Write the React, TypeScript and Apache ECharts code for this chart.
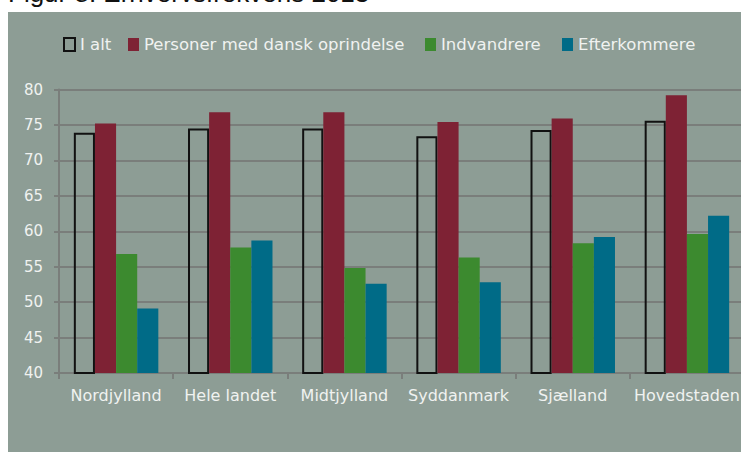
import React, { useEffect, useRef } from "react";
import * as echarts from "echarts";

const categories = ["Nordjylland", "Hele landet", "Midtjylland", "Syddanmark", "Sjælland", "Hovedstaden"];
const seriesNames = ["I alt", "Personer med dansk oprindelse", "Indvandrere", "Efterkommere"];
const iAlt = [73.9, 74.5, 74.5, 73.4, 74.3, 75.6];
const personer = [75.2, 76.8, 76.8, 75.4, 75.9, 79.2];
const indvandrere = [56.8, 57.7, 54.8, 56.3, 58.3, 59.6];
const efterkommere = [49.1, 58.7, 52.6, 52.8, 59.2, 62.2];
const yMin = 40;
const yMax = 80;
const yStep = 5;
const titleText = "Figur 8. Erhvervsfrekvens 2013";

const BG = "#8d9d95";
const GRIDC = "#7a7e7b";
const TXT = "#f0f2f0";
const FONT = "'DejaVu Sans', Verdana, sans-serif";

export default function App() {
  const ref = useRef<HTMLDivElement>(null);
  useEffect(() => {
    if (!ref.current) return;
    const chart = echarts.init(ref.current, null, { renderer: "svg" });
    const legendLefts = [63, 128, 425, 562];
    const dataSets = [iAlt, personer, indvandrere, efterkommere];
    const styles = [
      { color: "transparent", borderColor: "#111111", borderWidth: 2 },
      { color: "#7e2234" },
      { color: "#3c8a2f" },
      { color: "#006b87" },
    ];
    chart.setOption({
      animation: false,
      backgroundColor: "#ffffff",
      graphic: [
        {
          type: "rect",
          z: -100,
          silent: true,
          shape: { x: 8, y: 12, width: 741, height: 452 },
          style: { fill: BG },
        },
        {
          type: "text",
          x: 8,
          y: 6,
          silent: true,
          style: {
            text: titleText,
            font: "26px 'Liberation Sans', Arial, sans-serif",
            fill: "#111111",
            verticalAlign: "bottom",
            align: "left",
          },
        },
      ],
      legend: seriesNames.map((n, i) => ({
        data: [n],
        left: legendLefts[i],
        top: 36,
        padding: 0,
        itemWidth: 11,
        itemHeight: 13,
        itemGap: 0,
        icon: "rect",
        selectedMode: false,
        textStyle: { color: TXT, fontSize: 16.5, fontFamily: FONT },
      })),
      grid: {
        left: 59,
        top: 89.5,
        width: 685,
        height: 283.5,
        containLabel: false,
        outerBoundsMode: "none",
      },
      xAxis: {
        type: "category",
        data: categories,
        axisLine: { show: true, lineStyle: { color: GRIDC, width: 2 } },
        axisTick: { show: true, length: 6, interval: 0, lineStyle: { color: GRIDC, width: 2 } },
        axisLabel: { interval: 0, color: TXT, fontSize: 16, fontFamily: FONT, margin: 14 },
      },
      yAxis: {
        type: "value",
        min: yMin,
        max: yMax,
        interval: yStep,
        axisLine: { show: true, lineStyle: { color: GRIDC, width: 2 } },
        axisTick: { show: true, length: 5, lineStyle: { color: GRIDC, width: 2 } },
        splitLine: { show: true, lineStyle: { color: GRIDC, width: 2 } },
        axisLabel: { color: TXT, fontSize: 15, fontFamily: FONT, margin: 16 },
      },
      series: seriesNames.map((n, i) => ({
        name: n,
        type: "bar",
        data: dataSets[i],
        barGap: "0%",
        barCategoryGap: "26%",
        itemStyle: styles[i],
        emphasis: { disabled: true },
      })),
    });
    return () => chart.dispose();
  }, []);
  return (
    <div
      ref={ref}
      style={{ position: "fixed", left: 0, top: 0, width: 741, height: 452 }}
    />
  );
}
